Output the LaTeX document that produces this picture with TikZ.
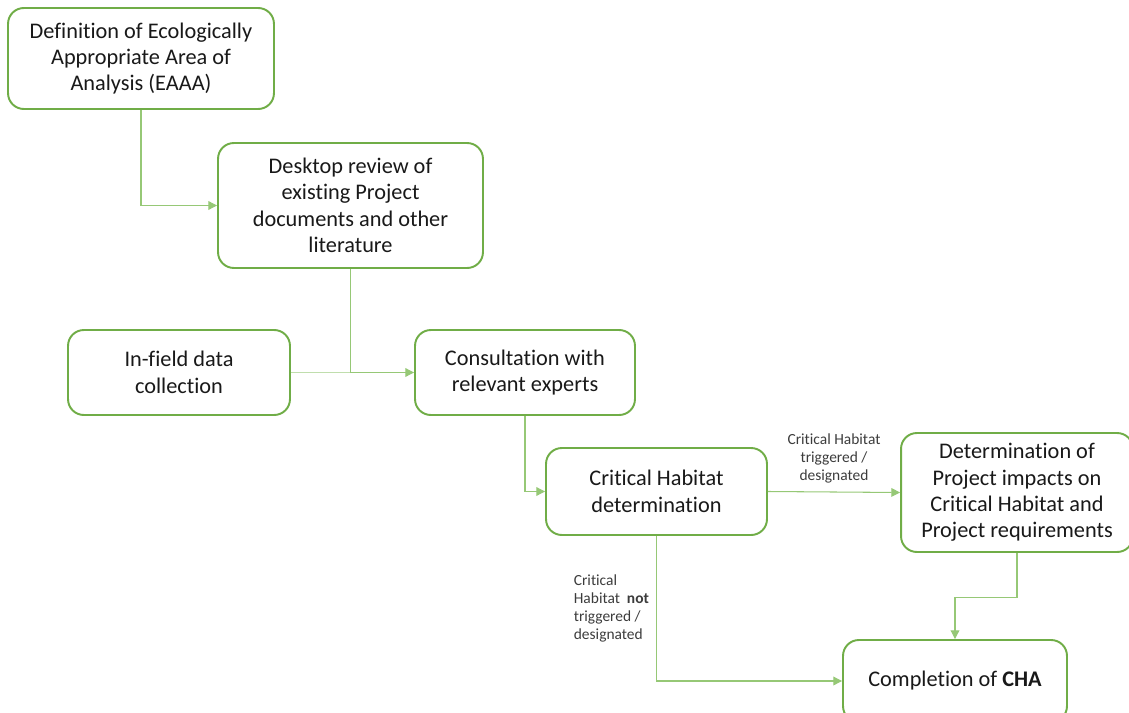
\documentclass[tikz,border=0pt]{standalone}
\usepackage{fontspec}
\setmainfont{Carlito}[Ligatures=NoCommon]
\usepackage{xcolor}
\usepackage{tikz}
\usetikzlibrary{arrows.meta,positioning}
\definecolor{boxGreen}{RGB}{112,173,71}
\definecolor{lineGreen}{RGB}{150,200,118}
\definecolor{txtDark}{RGB}{25,25,25}
\definecolor{noteGray}{RGB}{60,60,60}
\tikzset{
  stepbox/.style={draw=boxGreen,line width=1.1pt,rounded corners=9pt,fill=white,
                  font=\fontsize{12.7}{15}\selectfont,text=txtDark,align=center},
  arr/.style={-{Triangle[length=5pt,width=5pt]},line width=0.6pt,lineGreen},
  lnk/.style={line width=0.6pt,lineGreen!60},
  note/.style={font=\fontsize{8.8}{10.2}\selectfont,text=noteGray,inner sep=1pt},
}

\begin{document}
\begin{tikzpicture}[x=0.02cm,y=-0.02cm]
  \useasboundingbox (0,0) rectangle (1129,713);
  \node[stepbox,minimum width=5.32cm,minimum height=2.02cm] (eaaa)    at (141,58.5)  {Definition of Ecologically\\Appropriate Area of\\Analysis (EAAA)};
  \node[stepbox,minimum width=5.30cm,minimum height=2.50cm] (desk)    at (350.5,205.5) {Desktop review of\\existing Project\\documents and other\\literature};
  \node[stepbox,minimum width=4.44cm,minimum height=1.70cm] (field)   at (179,372.5) {In-field data\\collection};
  \node[stepbox,minimum width=4.40cm,minimum height=1.70cm] (consult) at (525,372.5) {Consultation with\\relevant experts};
  \node[stepbox,minimum width=4.42cm,minimum height=1.74cm] (chd)     at (656.5,491.5) {Critical Habitat\\determination};
  \node[stepbox,minimum width=4.64cm,minimum height=2.38cm] (impact)  at (1017,492.5) {Determination of\\Project impacts on\\Critical Habitat and\\Project requirements};
  \node[stepbox,minimum width=4.48cm,minimum height=1.64cm] (cha)     at (955,681) {Completion of \textbf{CHA}};
  % connectors
  \draw[arr] (eaaa.south) |- (desk.west);
  \draw[lnk] (field.east) -- (field.east -| desk.south);
  \draw[arr] (desk.south) |- (consult.west);
  \draw[arr] (consult.south) |- (chd.west);
  \draw[arr] (chd.east) -- (impact.west)
    node[midway,above=4pt,note,align=center] (yes) {Critical Habitat\\triggered /\\designated};
  \draw[arr] (chd.south) |- (cha.west)
    node[pos=0.25,left=3pt,note,align=left] (no) {Critical\\Habitat \ \textbf{not}\\triggered /\\designated};
  \draw[arr] (impact.south) -- ++(0,45) -| (cha.north);
\end{tikzpicture}
\end{document}
